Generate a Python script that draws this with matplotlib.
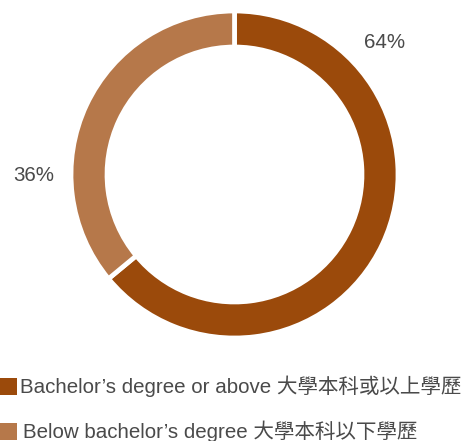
import matplotlib.pyplot as plt
from matplotlib.patches import Rectangle

plt.rcParams['font.family'] = ['Liberation Sans', 'Noto Sans CJK TC']

# data
labels = ["Bachelor\u2019s degree or above 大學本科或以上學歷",
          "Below bachelor\u2019s degree 大學本科以下學歷"]
values = [64, 36]
pct_labels = ["64%", "36%"]
colors = ["#9B4A0B", "#B6784A"]

W, H = 471, 441
TEXT_COLOR = "#4a4a4a"
FS = 14.8

fig = plt.figure(figsize=(W / 100, H / 100), dpi=100)
ax = fig.add_axes([0, 0, 1, 1])

# work in pixel units, y up
cx, cy = 234.5, H - 174.5
ax.pie(values, colors=colors, startangle=90, counterclock=False,
       center=(cx, cy), radius=163.5,
       wedgeprops=dict(width=36, edgecolor="white", linewidth=3.4))
ax.set_xlim(0, W)
ax.set_ylim(0, H)
ax.set_aspect("equal")
ax.axis("off")

# percentage labels
pct_pos = [(385, H - 43), (34, H - 175.5)]
for txt, (x, y) in zip(pct_labels, pct_pos):
    ax.text(x, y, txt, ha="center", va="center", fontsize=FS, color=TEXT_COLOR)

# legend
leg_y = [386.5, 431.5]
leg_x = [20, 23]
for i, (lab, col) in enumerate(zip(labels, colors)):
    y = H - leg_y[i]
    ax.add_patch(Rectangle((0, y - 8.5), 17, 17, color=col, lw=0))
    ax.text(leg_x[i], y, lab, ha="left", va="center", fontsize=FS, color=TEXT_COLOR)

fig.savefig("out.png", dpi=100)
